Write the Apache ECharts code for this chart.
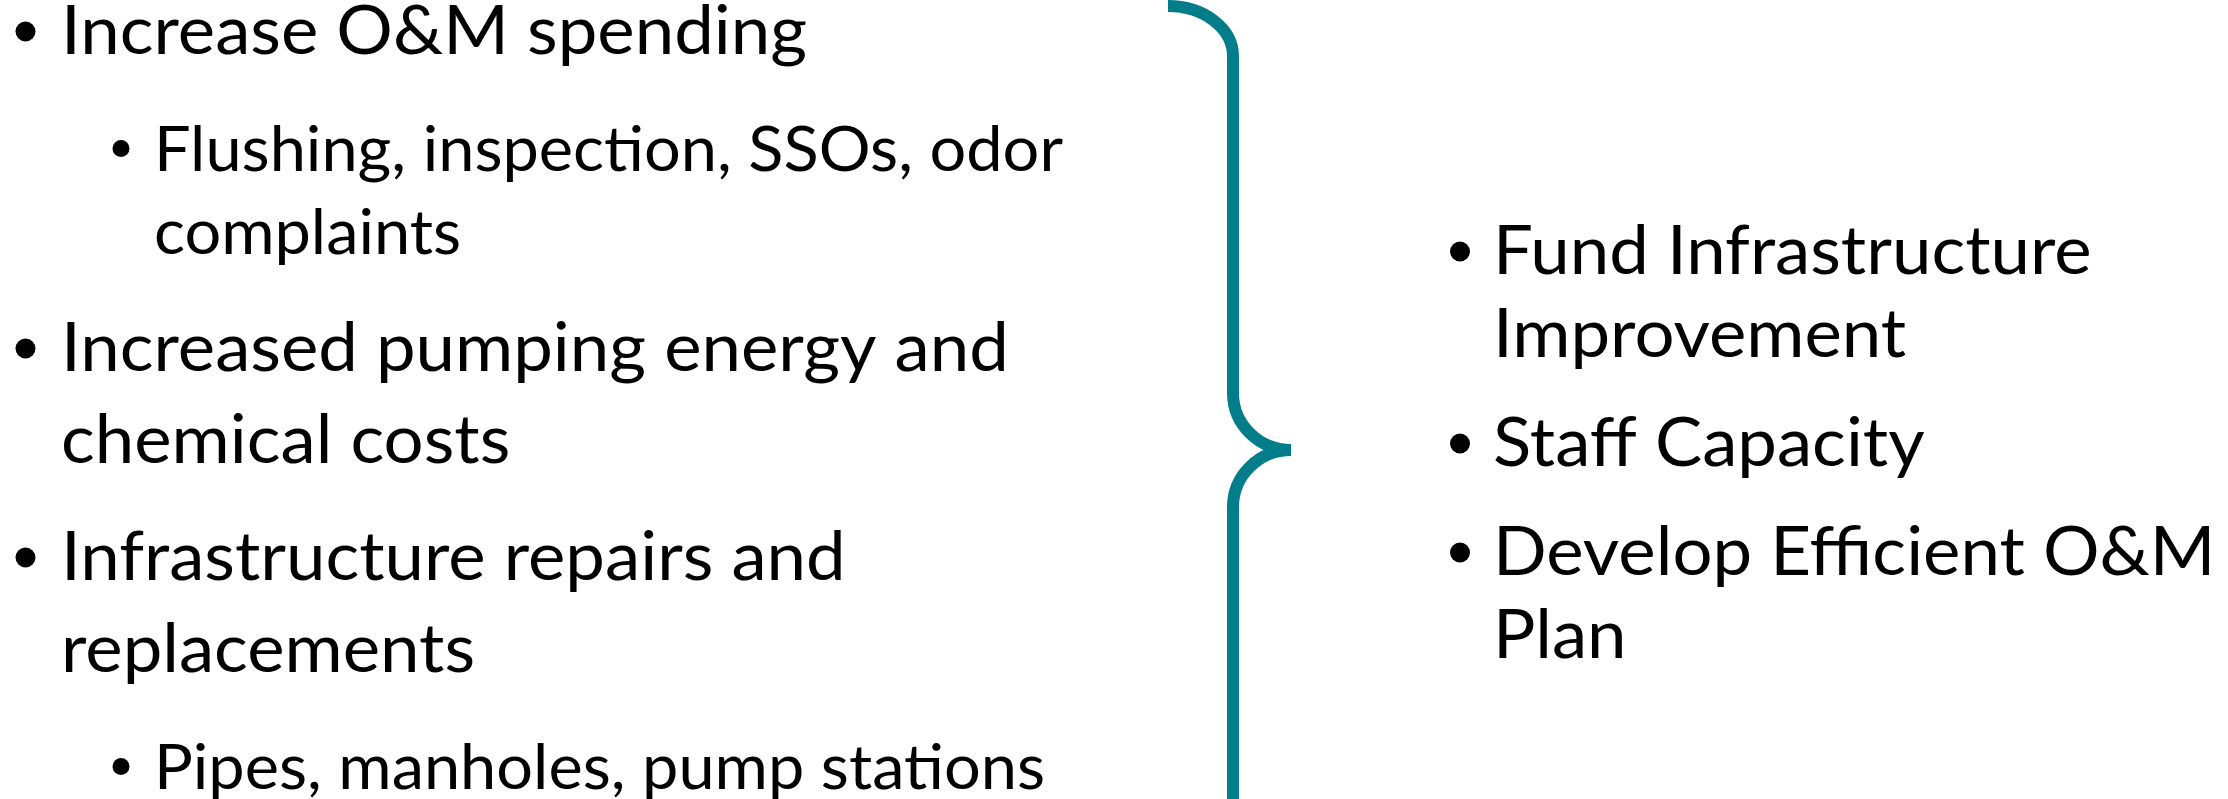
<!DOCTYPE html>
<html><head><meta charset="utf-8">
<script src="https://cdn.jsdelivr.net/npm/echarts@6/dist/echarts.min.js"></script>
<style>html,body{margin:0;padding:0;background:#fff}#c{width:2228px;height:799px}</style>
</head><body><div id="c"></div>
<script>
// ---- content ----
const leftText = [
  ['Increase O&M spending'],
  ['Flushing, inspection, SSOs, odor', 'complaints'],
  ['Increased pumping energy and', 'chemical costs'],
  ['Infrastructure repairs and', 'replacements'],
  ['Pipes, manholes, pump stations']
];
const leftLevel = [0, 1, 0, 0, 1];
const rightText = [
  ['Fund Infrastructure', 'Improvement'],
  ['Staff Capacity'],
  ['Develop Efficient O&M', 'Plan']
];
const rightLevel = [0, 0, 0];

// ---- styles / layout ----
const FONT = 'Lato, Carlito, "Open Sans", sans-serif';
const TEAL = '#047D8B';
const sizes = [67, 61];                 // font px per level
const bulletR = [10, 8.5];
const textX = {left: [61, 154], right: [1493]};
const bulletX = {left: [25.5, 121], right: [1460]};
const lineGapL = [92, 83];
const paraGapL = 117;
const lineGapR = 83, paraGapR = 109;
const MIDDLE_RATIO = 0.387;             // Lato: canvas 'middle' above alphabetic baseline

function measure(txt, fs) {
  const c = document.createElement('canvas').getContext('2d');
  c.font = fs + 'px Lato';
  return c.measureText(txt).width;
}
const scaleX = [746 / measure('Increase O&M spending', sizes[0]),
                909 / measure('Flushing, inspection, SSOs, odor', sizes[1])];

const elements = [];
function addBlock(texts, levels, side, startBase, lineGapFn, paraGap) {
  let base = startBase;
  texts.forEach((lines, i) => {
    const lv = levels[i];
    if (i > 0) base += paraGap;
    const fs = sizes[lv];
    const bx = side === 'left' ? bulletX.left[lv] : bulletX.right[0];
    const tx = side === 'left' ? textX.left[lv] : textX.right[0];
    elements.push({type: 'circle', shape: {cx: bx, cy: base - 26.5, r: bulletR[lv]}, style: {fill: '#000'}});
    lines.forEach((ln, j) => {
      if (j > 0) base += lineGapFn(lv);
      elements.push({
        type: 'text', x: tx, y: base - MIDDLE_RATIO * fs, scaleX: scaleX[lv], scaleY: 1,
        style: {text: ln, fill: '#000', font: fs + 'px ' + FONT, verticalAlign: 'middle', align: 'left'}
      });
    });
  });
}
addBlock(leftText, leftLevel, 'left', 58, lv => lineGapL[lv], paraGapL);
addBlock(rightText, rightLevel, 'right', 278, () => lineGapR, paraGapR);

// brace (right curly bracket)
const k = 0.5523;
const bx = 1233, tipX = 1291, tipY = 450;
const braceStyle = {fill: 'none', stroke: TEAL, lineWidth: 12, lineCap: 'butt'};
elements.push(
  {type: 'bezierCurve', shape: {x1: 1168, y1: 6, cpx1: 1168 + k * 65, cpy1: 6, cpx2: bx, cpy2: 56 - k * 50, x2: bx, y2: 56}, style: braceStyle},
  {type: 'line', shape: {x1: bx, y1: 55, x2: bx, y2: 394}, style: braceStyle},
  {type: 'bezierCurve', shape: {x1: bx, y1: 393, cpx1: bx, cpy1: 393 + k * 57, cpx2: tipX - k * 58, cpy2: tipY, x2: tipX, y2: tipY}, style: braceStyle},
  {type: 'bezierCurve', shape: {x1: tipX, y1: tipY, cpx1: tipX - k * 58, cpy1: tipY, cpx2: bx, cpy2: 507 - k * 57, x2: bx, y2: 507}, style: braceStyle},
  {type: 'line', shape: {x1: bx, y1: 506, x2: bx, y2: 815}, style: braceStyle}
);

const chart = echarts.init(document.getElementById('c'), null, {renderer: 'canvas'});
chart.setOption({backgroundColor: '#fff', animation: false, graphic: {elements}});
</script></body></html>
